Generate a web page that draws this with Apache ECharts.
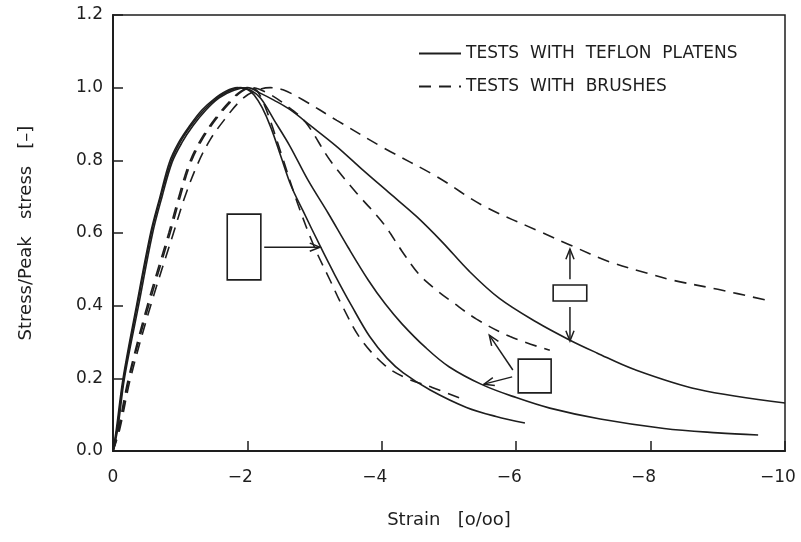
<!DOCTYPE html>
<html>
<head>
<meta charset="utf-8">
<script src="https://cdn.jsdelivr.net/npm/echarts@6/dist/echarts.min.js"></script>
<style>
  html, body { margin: 0; padding: 0; background: #fff; }
  #main { width: 801px; height: 542px; }
</style>
</head>
<body>
<div id="main"></div>
<script>
// strain [o/oo] (negative = compression), stress / peak stress [-]
const teflon1 = [[0,0],[-0.05,0.06],[-0.15,0.2],[-0.35,0.4],[-0.56,0.6],[-0.7,0.7],[-0.84,0.795],[-0.98,0.85],[-1.14,0.895],[-1.32,0.938],[-1.5,0.968],[-1.68,0.99],[-1.85,1.0],[-2.0,0.995],[-2.1,0.98],[-2.22,0.945],[-2.35,0.89],[-2.5,0.81],[-2.65,0.73],[-2.83,0.66],[-3.08,0.565],[-3.3,0.485],[-3.55,0.4],[-3.82,0.315],[-4.08,0.255],[-4.32,0.215],[-4.72,0.168],[-5.26,0.12],[-5.7,0.095],[-6.13,0.077]];
const teflon2 = [[0,0],[-0.06,0.06],[-0.16,0.2],[-0.36,0.4],[-0.57,0.6],[-0.71,0.7],[-0.86,0.795],[-1.0,0.85],[-1.16,0.895],[-1.35,0.938],[-1.54,0.97],[-1.72,0.99],[-1.9,1.0],[-2.05,0.993],[-2.2,0.97],[-2.4,0.91],[-2.63,0.84],[-2.9,0.746],[-3.2,0.655],[-3.5,0.56],[-3.8,0.47],[-4.05,0.405],[-4.3,0.35],[-4.65,0.285],[-5.0,0.232],[-5.5,0.182],[-6.0,0.147],[-6.5,0.118],[-7.25,0.088],[-8.2,0.062],[-9.0,0.05],[-9.6,0.044]];
const teflon3 = [[0,0],[-0.07,0.06],[-0.17,0.2],[-0.38,0.4],[-0.59,0.6],[-0.73,0.7],[-0.88,0.795],[-1.03,0.85],[-1.19,0.895],[-1.38,0.938],[-1.58,0.972],[-1.8,0.993],[-2.0,1.0],[-2.19,0.985],[-2.4,0.965],[-2.63,0.94],[-2.93,0.897],[-3.33,0.838],[-3.72,0.773],[-4.12,0.709],[-4.52,0.645],[-4.9,0.575],[-5.3,0.495],[-5.75,0.42],[-6.3,0.355],[-6.8,0.305],[-7.2,0.27],[-7.75,0.225],[-8.7,0.17],[-10,0.132]];
const brushes1 = [[0,0],[-0.08,0.06],[-0.23,0.2],[-0.51,0.4],[-0.83,0.6],[-0.98,0.7],[-1.13,0.79],[-1.3,0.855],[-1.52,0.915],[-1.75,0.965],[-1.9,0.99],[-2.04,1.0],[-2.15,0.99],[-2.3,0.93],[-2.5,0.82],[-2.75,0.68],[-3.0,0.56],[-3.23,0.47],[-3.41,0.4],[-3.68,0.31],[-4.05,0.235],[-4.37,0.2],[-4.75,0.175],[-5.2,0.143]];
const brushes2 = [[0,0],[-0.09,0.06],[-0.24,0.2],[-0.53,0.4],[-0.85,0.6],[-1.0,0.7],[-1.15,0.79],[-1.32,0.855],[-1.54,0.915],[-1.77,0.965],[-1.92,0.99],[-2.06,1.0],[-2.3,0.985],[-2.55,0.955],[-2.86,0.906],[-3.23,0.8],[-3.63,0.709],[-4.02,0.627],[-4.3,0.55],[-4.55,0.487],[-4.8,0.445],[-5.05,0.41],[-5.41,0.363],[-5.91,0.315],[-6.5,0.277]];
const brushes3 = [[0,0],[-0.1,0.06],[-0.26,0.2],[-0.56,0.4],[-0.9,0.6],[-1.07,0.7],[-1.26,0.79],[-1.44,0.855],[-1.65,0.91],[-1.9,0.965],[-2.1,0.99],[-2.34,1.0],[-2.53,0.994],[-2.83,0.966],[-3.33,0.91],[-4.02,0.835],[-4.82,0.755],[-5.51,0.675],[-6.4,0.6],[-6.8,0.567],[-7.4,0.52],[-7.94,0.49],[-8.33,0.47],[-9.0,0.445],[-9.75,0.414]];

// annotation boxes [x1, y1, x2, y2] and arrows [fromX, fromY, toX, toY]
const boxes = [[-1.70,0.652,-2.20,0.471],[-6.55,0.457,-7.05,0.413],[-6.03,0.253,-6.52,0.160]];
const arrows = [[-2.25,0.561,-3.08,0.561],[-6.8,0.473,-6.8,0.556],[-6.8,0.396,-6.8,0.303],[-5.95,0.223,-5.6,0.319],[-5.94,0.204,-5.52,0.184]];

const legendNames = ['TESTS  WITH  TEFLON  PLATENS', 'TESTS  WITH  BRUSHES'];

const ink = '#1e1e1e';
const font = 'DejaVu Sans';

let myChart = echarts.init(document.getElementById('main'));

function curve(name, data, dashed) {
    return {
        name: name,
        type: 'line',
        data: data,
        symbol: 'none',
        smooth: 0.35,
        lineStyle: { color: ink, width: 1.6, type: dashed ? [12, 8] : 'solid' },
        itemStyle: { color: ink },
        z: 3
    };
}

let option = {
    backgroundColor: '#fff',
    animation: false,
    grid: {
        left: 113, right: 16, top: 15, bottom: 91,
        show: true, borderColor: ink, borderWidth: 1.5
    },
    legend: {
        data: legendNames,
        orient: 'vertical',
        left: 413, top: 40,
        itemWidth: 42, itemHeight: 20, itemGap: 16,
        itemStyle: { opacity: 0 },
        textStyle: { color: ink, fontFamily: font, fontSize: 17 },
        selectedMode: false
    },
    xAxis: {
        type: 'value',
        min: -10, max: 0, interval: 2,
        inverse: true,
        name: 'Strain   [o/oo]',
        nameLocation: 'middle',
        nameGap: 60,
        nameTextStyle: { color: ink, fontFamily: font, fontSize: 18 },
        axisLine: { lineStyle: { color: ink, width: 2 } },
        axisTick: { inside: true, length: 10, lineStyle: { color: ink, width: 1.5 } },
        splitLine: { show: false },
        axisLabel: {
            color: ink, fontFamily: font, fontSize: 17, margin: 18,
            formatter: function (v) {
                return v < 0 ? '{m|\u2212' + Math.abs(v) + '}' : '{n|' + v + '}';
            },
            rich: {
                m: { color: ink, fontFamily: font, fontSize: 17, padding: [0, 14, 0, 0] },
                n: { color: ink, fontFamily: font, fontSize: 17 }
            }
        }
    },
    yAxis: {
        type: 'value',
        min: 0, max: 1.2, interval: 0.2,
        name: 'Stress/Peak   stress   [\u2013]',
        nameLocation: 'middle',
        nameGap: 78,
        nameTextStyle: { color: ink, fontFamily: font, fontSize: 18 },
        axisLine: { show: true, lineStyle: { color: ink, width: 2 } },
        axisTick: { inside: true, length: 10, lineStyle: { color: ink, width: 1.5 } },
        splitLine: { show: false },
        axisLabel: {
            color: ink, fontFamily: font, fontSize: 17, margin: 10,
            formatter: function (v) { return v.toFixed(1); }
        }
    },
    series: [
        curve(legendNames[0], teflon1, false),
        curve(legendNames[0], teflon2, false),
        curve(legendNames[0], teflon3, false),
        curve(legendNames[1], brushes1, true),
        curve(legendNames[1], brushes2, true),
        curve(legendNames[1], brushes3, true),
        {
            type: 'custom',
            data: boxes,
            silent: true,
            clip: false,
            renderItem: function (params, api) {
                const a = api.coord([api.value(0), api.value(1)]);
                const b = api.coord([api.value(2), api.value(3)]);
                return {
                    type: 'rect',
                    shape: {
                        x: Math.min(a[0], b[0]), y: Math.min(a[1], b[1]),
                        width: Math.abs(b[0] - a[0]), height: Math.abs(b[1] - a[1])
                    },
                    style: { fill: '#fff', stroke: ink, lineWidth: 1.6 }
                };
            },
            z: 4
        },
        {
            type: 'custom',
            data: arrows,
            silent: true,
            clip: false,
            renderItem: function (params, api) {
                const p1 = api.coord([api.value(0), api.value(1)]);
                const p2 = api.coord([api.value(2), api.value(3)]);
                const ang = Math.atan2(p2[1] - p1[1], p2[0] - p1[0]);
                const L = 11, w = 0.38;
                const h1 = [p2[0] - L * Math.cos(ang - w), p2[1] - L * Math.sin(ang - w)];
                const h2 = [p2[0] - L * Math.cos(ang + w), p2[1] - L * Math.sin(ang + w)];
                return {
                    type: 'group',
                    children: [
                        { type: 'line', shape: { x1: p1[0], y1: p1[1], x2: p2[0], y2: p2[1] },
                          style: { stroke: ink, lineWidth: 1.5 } },
                        { type: 'polyline', shape: { points: [h1, p2, h2] },
                          style: { stroke: ink, fill: null, lineWidth: 1.5 } }
                    ]
                };
            },
            z: 4
        }
    ]
};

myChart.setOption(option);
</script>
</body>
</html>
